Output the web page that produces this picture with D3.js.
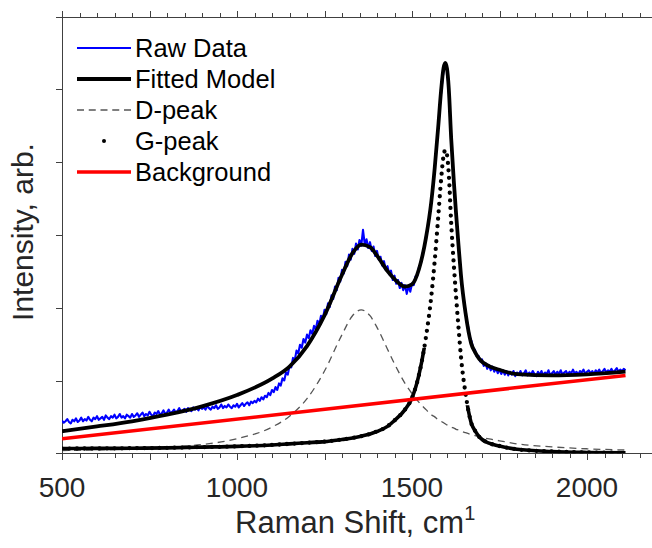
<!DOCTYPE html>
<html>
<head>
<meta charset="utf-8">
<script src="https://cdn.jsdelivr.net/npm/d3@7"></script>
<style>
  html, body { margin: 0; padding: 0; background: #ffffff; }
  svg { display: block; }
  text { font-family: "Liberation Sans", Arial, sans-serif; }
</style>
</head>
<body>
<svg id="chart" width="652" height="548"></svg>
<script>
// ---------------- data ----------------
// Raman shift sample points for the model curves (cm^-1)
const ramanShift = [500, 600, 700, 800, 900, 1000, 1100, 1150, 1200, 1250, 1300, 1330, 1355, 1380, 1400,
  1430, 1450, 1480, 1500, 1520, 1540, 1555, 1565, 1575, 1583, 1590, 1595, 1600, 1605, 1612, 1620,
  1626, 1633, 1640, 1653, 1669, 1680, 1693, 1720, 1750, 1800, 1900, 2000, 2110];

const fittedModel = [0.303, 0.369, 0.440, 0.530, 0.645, 0.800, 1.025, 1.191, 1.473, 1.895, 2.452, 2.749,
  2.867, 2.831, 2.716, 2.503, 2.393, 2.290, 2.320, 2.531, 2.962, 3.450, 3.925, 4.491, 4.975, 5.289,
  5.362, 5.284, 5.017, 4.321, 3.700, 3.288, 2.852, 2.441, 1.926, 1.510, 1.391, 1.292, 1.197, 1.147,
  1.087, 1.070, 1.085, 1.121];

const dPeak = [0.038, 0.048, 0.062, 0.085, 0.12, 0.20, 0.36, 0.51, 0.75, 1.13, 1.63, 1.89, 1.97, 1.89,
  1.73, 1.43, 1.23, 0.96, 0.82, 0.70, 0.60, 0.53, 0.50, 0.46, 0.44, 0.42, 0.405, 0.39, 0.38, 0.36,
  0.345, 0.33, 0.32, 0.305, 0.283, 0.258, 0.243, 0.227, 0.198, 0.172, 0.13, 0.088, 0.062, 0.045];

const gPeak = [0.065, 0.067, 0.070, 0.075, 0.085, 0.095, 0.115, 0.13, 0.145, 0.16, 0.19, 0.21, 0.235,
  0.265, 0.30, 0.37, 0.45, 0.60, 0.76, 1.08, 1.60, 2.15, 2.65, 3.25, 3.75, 4.08, 4.165, 4.10, 3.84,
  3.16, 2.55, 2.15, 1.72, 1.32, 0.82, 0.42, 0.31, 0.22, 0.14, 0.10, 0.055, 0.025, 0.012, 0.006];

const backgroundShift = [500, 2110];
const background = [0.20, 1.07];

// raw spectrum, sampled every 5 cm^-1 starting at 500 cm^-1 (one row = 100 cm^-1)
const rawStart = 500;
const rawStep = 5;
const rawData = [
  0.45, 0.42, 0.44, 0.47, 0.43, 0.41, 0.46, 0.44, 0.48, 0.43, 0.45, 0.49, 0.44, 0.47, 0.45, 0.50, 0.46, 0.44, 0.49, 0.47,
  0.51, 0.46, 0.48, 0.50, 0.46, 0.52, 0.49, 0.47, 0.51, 0.49, 0.53, 0.48, 0.50, 0.54, 0.49, 0.51, 0.48, 0.53, 0.51, 0.49,
  0.54, 0.50, 0.52, 0.55, 0.50, 0.53, 0.56, 0.51, 0.54, 0.52, 0.57, 0.53, 0.51, 0.56, 0.54, 0.58, 0.53, 0.55, 0.59, 0.54,
  0.56, 0.60, 0.55, 0.57, 0.60, 0.56, 0.58, 0.62, 0.57, 0.59, 0.61, 0.57, 0.62, 0.60, 0.58, 0.63, 0.60, 0.62, 0.59, 0.64,
  0.61, 0.63, 0.60, 0.65, 0.62, 0.60, 0.64, 0.62, 0.66, 0.61, 0.63, 0.67, 0.62, 0.65, 0.63, 0.67, 0.64, 0.62, 0.66, 0.64,
  0.68, 0.63, 0.66, 0.69, 0.65, 0.68, 0.70, 0.66, 0.71, 0.69, 0.72, 0.70, 0.75, 0.72, 0.77, 0.74, 0.79, 0.77, 0.83, 0.80,
  0.87, 0.84, 0.91, 0.87, 0.96, 0.93, 1.03, 1.00, 1.11, 1.08, 1.20, 1.18, 1.31, 1.28, 1.41, 1.37, 1.49, 1.45, 1.57, 1.52,
  1.63, 1.58, 1.69, 1.64, 1.75, 1.70, 1.82, 1.77, 1.89, 1.84, 1.97, 1.91, 2.06, 2.01, 2.17, 2.12, 2.29, 2.24, 2.41, 2.36,
  2.52, 2.47, 2.63, 2.57, 2.73, 2.66, 2.81, 2.74, 2.88, 2.80, 2.93, 2.85, 3.07, 2.87, 2.94, 2.82, 2.90, 2.78, 2.84, 2.71,
  2.78, 2.66, 2.70, 2.58, 2.64, 2.52, 2.57, 2.46, 2.51, 2.38, 2.44, 2.33, 2.38, 2.27, 2.34, 2.24, 2.31, 2.19, 2.30, 2.22,
  2.33, 2.31, 2.43, 2.44, 2.56, 2.60, 2.74, 2.82, 2.98, 3.09, 3.28, 3.44, 3.68, 3.92, 4.21, 4.48, 4.79, 5.04, 5.25, 5.33,
  5.27, 5.00, 4.54, 4.06, 3.71, 3.34, 3.02, 2.73, 2.46, 2.21, 2.06, 1.86, 1.75, 1.60, 1.54, 1.44, 1.42, 1.33, 1.34, 1.26,
  1.29, 1.20, 1.24, 1.16, 1.21, 1.14, 1.19, 1.12, 1.17, 1.10, 1.15, 1.09, 1.14, 1.08, 1.13, 1.07, 1.12, 1.08, 1.13, 1.06,
  1.11, 1.08, 1.13, 1.07, 1.10, 1.14, 1.07, 1.11, 1.08, 1.13, 1.09, 1.06, 1.12, 1.08, 1.13, 1.07, 1.11, 1.09, 1.14, 1.07,
  1.10, 1.13, 1.08, 1.12, 1.09, 1.14, 1.08, 1.11, 1.13, 1.08, 1.12, 1.10, 1.15, 1.09, 1.12, 1.08, 1.13, 1.11, 1.15, 1.09,
  1.12, 1.14, 1.10, 1.13, 1.09, 1.14, 1.11, 1.15, 1.10, 1.13, 1.16, 1.11, 1.14, 1.12, 1.16, 1.11, 1.14, 1.17, 1.12, 1.15,
  1.13, 1.16, 1.14];

const xLabelTicks = [500, 1000, 1500, 2000];
const legendLabels = ["Raw Data", "Fitted Model", "D-peak", "G-peak", "Background"];

// ---------------- chart ----------------
const svg = d3.select("#chart");
const W = 652, H = 548;
svg.append("rect").attr("width", W).attr("height", H).attr("fill", "#fff");

const x = d3.scaleLinear().domain([500, 2200]).range([62, 657]);
const y = d3.scaleLinear().domain([0, 6]).range([453.3, 16.5]);
const axisColor = "#404040";

const defs = svg.append("defs");
defs.append("clipPath").attr("id", "plotClip").append("rect")
  .attr("x", x(500)).attr("y", y(6)).attr("width", W - x(500)).attr("height", y(0) - y(6));

// G-peak solid tail regions (where its dense points merge into a line)
const tailClip = defs.append("clipPath").attr("id", "tailClip");
tailClip.append("rect").attr("x", 0).attr("y", y(1.45))
  .attr("width", x(1594)).attr("height", H - y(1.45));
tailClip.append("rect").attr("x", x(1594)).attr("y", y(0.66))
  .attr("width", W - x(1594)).attr("height", H - y(0.66));

// ---------- axes ----------
function styleAxis(g) {
  g.selectAll("path, line").attr("stroke", axisColor).attr("stroke-width", 1).attr("shape-rendering", "crispEdges");
  g.selectAll("text").remove();
}
svg.append("g").attr("transform", `translate(0,${y(0)})`)
  .call(d3.axisBottom(x).tickValues(d3.range(500, 2201, 50)).tickSize(4.5).tickSizeOuter(0))
  .call(styleAxis);
svg.append("g").attr("transform", `translate(0,${y(0)})`)
  .call(d3.axisBottom(x).tickValues(d3.range(500, 2201, 250)).tickSize(7).tickSizeOuter(0))
  .call(styleAxis);
svg.append("g").attr("transform", `translate(0,${y(6)})`)
  .call(d3.axisTop(x).tickValues(d3.range(500, 2201, 50)).tickSize(3.5).tickSizeOuter(0))
  .call(styleAxis);
svg.append("g").attr("transform", `translate(0,${y(6)})`)
  .call(d3.axisTop(x).tickValues(d3.range(500, 2201, 250)).tickSize(6).tickSizeOuter(0))
  .call(styleAxis);
svg.append("g").attr("transform", `translate(${x(500)},0)`)
  .call(d3.axisLeft(y).tickValues(d3.range(0, 7, 1)).tickSize(6.5).tickSizeOuter(0))
  .call(styleAxis);

svg.append("g").selectAll("text").data(xLabelTicks).join("text")
  .attr("x", d => x(d)).attr("y", 496.7)
  .attr("text-anchor", "middle").attr("font-size", 28).attr("fill", "#262626")
  .text(d => d);

const xt = svg.append("text").attr("x", 235).attr("y", 533.3)
  .attr("font-size", 31).attr("fill", "#262626");
xt.append("tspan").text("Raman Shift, cm");
xt.append("tspan").attr("font-size", 20).attr("dy", -13.3).text("1");

svg.append("text").attr("transform", "translate(33.3,232) rotate(-90)")
  .attr("text-anchor", "middle").attr("font-size", 30).attr("fill", "#262626")
  .text("Intensity, arb.");

// ---------- series ----------
const plot = svg.append("g").attr("clip-path", "url(#plotClip)");

const rawPts = rawData.map((v, i) => [rawStart + i * rawStep, v]);
const modelLine = d3.line().x(d => x(d[0])).y(d => y(d[1])).curve(d3.curveMonotoneX);
const rawLine = d3.line().x(d => x(d[0])).y(d => y(d[1]));

plot.append("path").datum(rawPts).attr("d", rawLine)
  .attr("fill", "none").attr("stroke", "#0000ff").attr("stroke-width", 2.1).attr("stroke-linejoin", "round");

const fitPts = ramanShift.map((s, i) => [s, fittedModel[i]]);
plot.append("path").datum(fitPts).attr("d", modelLine)
  .attr("fill", "none").attr("stroke", "#000").attr("stroke-width", 3.8).attr("stroke-linejoin", "round");

const dPts = ramanShift.map((s, i) => [s, dPeak[i]]);
plot.append("path").datum(dPts).attr("d", modelLine)
  .attr("fill", "none").attr("stroke", "#555").attr("stroke-width", 1.3).attr("stroke-dasharray", "7,5");

const gPts = ramanShift.map((s, i) => [s, gPeak[i]]);
plot.append("path").datum(gPts).attr("d", modelLine)
  .attr("fill", "none").attr("stroke", "#000").attr("stroke-width", 4.3)
  .attr("stroke-linecap", "round").attr("stroke-dasharray", "0,7.5");
plot.append("path").datum(gPts).attr("d", modelLine).attr("clip-path", "url(#tailClip)")
  .attr("fill", "none").attr("stroke", "#000").attr("stroke-width", 3.6).attr("stroke-linejoin", "round");

const bgPts = backgroundShift.map((s, i) => [s, background[i]]);
plot.append("path").datum(bgPts).attr("d", rawLine)
  .attr("fill", "none").attr("stroke", "#ff0000").attr("stroke-width", 3.5);

// ---------- legend ----------
const leg = svg.append("g");
const rowY = i => 48 + i * 31;
const lx0 = 77, lx1 = 131;
leg.append("line").attr("x1", lx0).attr("x2", lx1).attr("y1", rowY(0)).attr("y2", rowY(0))
  .attr("stroke", "#0000ff").attr("stroke-width", 2);
leg.append("line").attr("x1", lx0).attr("x2", lx1).attr("y1", rowY(1)).attr("y2", rowY(1))
  .attr("stroke", "#000").attr("stroke-width", 3.8);
leg.append("line").attr("x1", lx0).attr("x2", lx1).attr("y1", rowY(2)).attr("y2", rowY(2))
  .attr("stroke", "#555").attr("stroke-width", 1.3).attr("stroke-dasharray", "7,4.75");
leg.append("circle").attr("cx", (lx0 + lx1) / 2).attr("cy", rowY(3)).attr("r", 2).attr("fill", "#000");
leg.append("line").attr("x1", lx0).attr("x2", lx1).attr("y1", rowY(4)).attr("y2", rowY(4))
  .attr("stroke", "#ff0000").attr("stroke-width", 3.5);
leg.selectAll("text.lab").data(legendLabels).join("text").attr("class", "lab")
  .attr("x", 135).attr("y", (d, i) => rowY(i) + 9.4)
  .attr("font-size", 25.5).attr("fill", "#000").text(d => d);
</script>
</body>
</html>
